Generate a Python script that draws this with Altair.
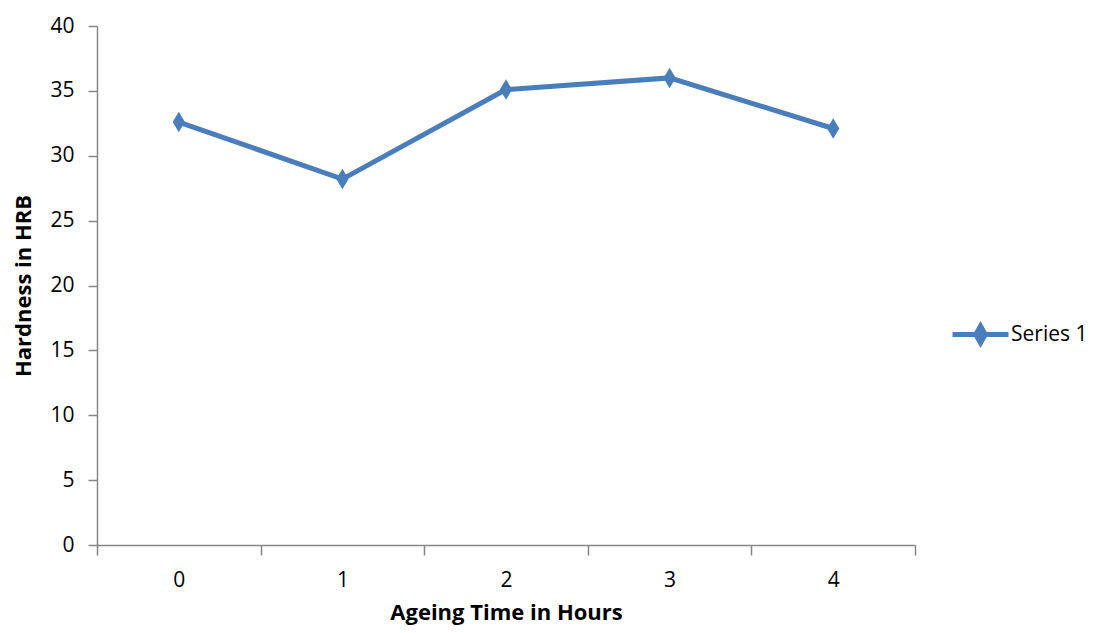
import altair as alt
import pandas as pd

hours = ["0", "1", "2", "3", "4"]
hardness = [32.6, 28.2, 35.1, 36.0, 32.1]
series = ["Series 1"] * 5

df = pd.DataFrame({"hours": hours, "hardness": hardness, "series": series})

BLUE = "#4A7EBB"
AXIS = "#868686"
FONT = "Open Sans, sans-serif"

x_enc = alt.X(
    "hours:O",
    sort=hours,
    scale=alt.Scale(paddingInner=0, paddingOuter=0),
    axis=alt.Axis(
        title="Ageing Time in Hours",
        labelAngle=0,
        tickBand="extent",
        tickSize=10,
        labelPadding=14,
        titlePadding=12,
    ),
)
y_enc = alt.Y(
    "hardness:Q",
    scale=alt.Scale(domain=[0, 40], nice=False, zero=True),
    axis=alt.Axis(
        title="Hardness in HRB",
        values=[0, 5, 10, 15, 20, 25, 30, 35, 40],
        tickSize=9,
        labelPadding=14,
        titlePadding=14,
        grid=False,
    ),
)

line = alt.Chart(df).mark_line(color=BLUE, strokeWidth=5).encode(x=x_enc, y=y_enc)

points = alt.Chart(df).mark_point(
    filled=True,
    opacity=1,
    shape="M0,-1L0.6,0L0,1L-0.6,0Z",
    size=420,
).encode(
    x=x_enc,
    y=y_enc,
    color=alt.Color(
        "series:N",
        scale=alt.Scale(domain=["Series 1"], range=[BLUE]),
        legend=alt.Legend(
            title=None,
            orient="none",
            legendX=853,
            legendY=278,
            padding=0,
            symbolType="M-1,0L1,0M0,-0.3L0.17,0L0,0.3L-0.17,0Z",
            symbolSize=3136,
            symbolStrokeColor=BLUE,
            symbolFillColor=BLUE,
            symbolStrokeWidth=5,
            labelFontSize=21,
            labelFont=FONT,
            labelColor="#000000",
            labelOffset=0,
        ),
    ),
)

chart = (
    alt.layer(line, points)
    .properties(
        width=818,
        height=519,
        autosize=alt.AutoSizeParams(type="none"),
        padding={"left": 89, "top": 18, "right": 174, "bottom": 80},
    )
    .configure_view(stroke=None)
    .configure_axis(
        domainColor=AXIS,
        tickColor=AXIS,
        domainWidth=1.5,
        tickWidth=1.5,
        labelFont=FONT,
        labelFontSize=21,
        labelColor="#000000",
        titleFont=FONT,
        titleFontSize=22,
        titleFontWeight="bold",
        titleColor="#000000",
    )
)

chart.save("out.html", embed_options={"renderer": "svg", "actions": False})
